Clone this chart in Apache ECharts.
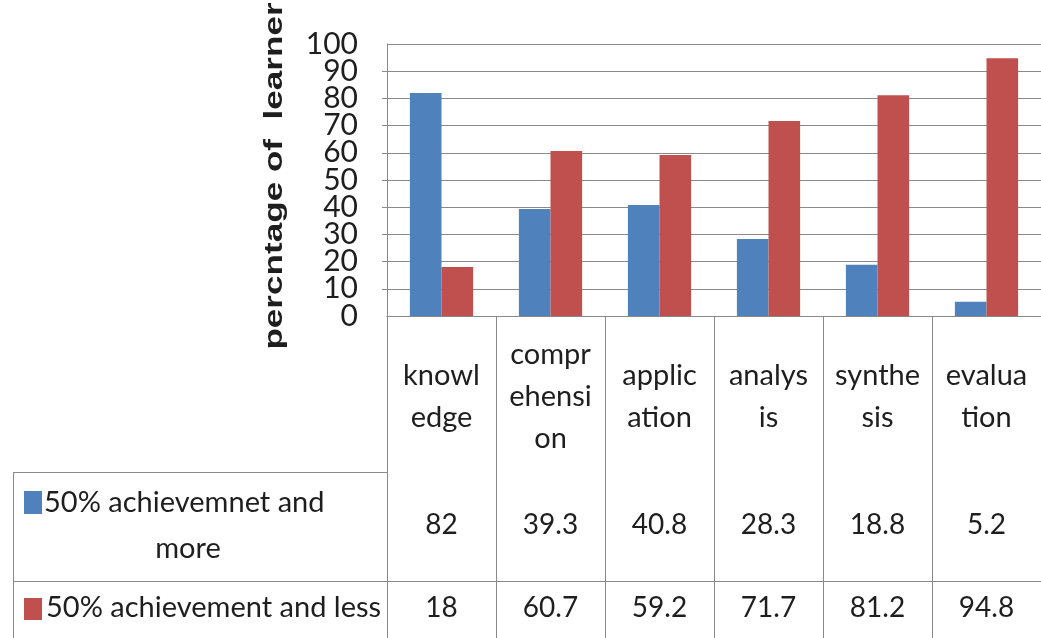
<!DOCTYPE html>
<html>
<head>
<meta charset="utf-8">
<script src="https://cdn.jsdelivr.net/npm/echarts@6/dist/echarts.min.js"></script>
<style>
  html, body { margin: 0; padding: 0; background: #ffffff; }
  #chart { width: 1041px; height: 638px; }
</style>
</head>
<body>
<div id="chart"></div>
<script>
// Bloom's taxonomy levels and share of learners on each side of 50% achievement
const categories = ['knowledge', 'comprehension', 'application', 'analysis', 'synthesis', 'evaluation'];
// how each level name is split over lines in its table cell
const categoryLabelLines = ['knowl\nedge', 'compr\nehensi\non', 'applic\nation', 'analys\nis', 'synthe\nsis', 'evalua\ntion'];
const seriesNames = ['50% achievemnet and more', '50% achievement and less'];
const achievementAbove = [82, 39.3, 40.8, 28.3, 18.8, 5.2];
const achievementBelow = [18, 60.7, 59.2, 71.7, 81.2, 94.8];
const yTickLabels = [0, 10, 20, 30, 40, 50, 60, 70, 80, 90, 100];
const axisTitle = 'percntage of  learner';

const COLORS = ['#4F81BD', '#C0504D'];
const LINE = '#8a8a8a';
const INK = '#1e1e1e';
const FONT = "Lato, 'Open Sans', sans-serif";

const Y_MIN = yTickLabels[0];
const Y_MAX = yTickLabels[yTickLabels.length - 1];
const Y_STEP = yTickLabels[1] - yTickLabels[0];

const chart = echarts.init(document.getElementById('chart'), null, { renderer: 'canvas' });

const tableRows = [achievementAbove, achievementBelow];

function dataRowAxis(rowIndex, offset, margin) {
  return {
    type: 'category',
    data: categories,
    position: 'bottom',
    offset: offset,
    axisLine: { show: true, lineStyle: { color: LINE, width: 1 } },
    axisTick: { show: false },
    splitLine: { show: false },
    axisLabel: {
      interval: 0,
      margin: margin,
      verticalAlign: 'middle',
      fontFamily: FONT,
      fontSize: 28,
      color: INK,
      formatter: function (value, index) { return String(tableRows[rowIndex][index]); }
    }
  };
}

// The tick labels sit closer than their own height, so the end labels (0, 100)
// live on a twin axis to keep every one of them visible.
function valueAxis(isEnds) {
  return {
    type: 'value',
    position: 'left',
    min: Y_MIN,
    max: Y_MAX,
    interval: Y_STEP,
    axisLine: { show: !isEnds, lineStyle: { color: LINE, width: 1 } },
    axisTick: { show: !isEnds, length: 5, lineStyle: { color: LINE } },
    splitLine: { show: !isEnds, lineStyle: { color: LINE, width: 1 } },
    axisLabel: {
      margin: 29,
      showMinLabel: isEnds,
      showMaxLabel: isEnds,
      hideOverlap: false,
      fontFamily: FONT,
      fontSize: 30,
      color: INK,
      formatter: function (value) {
        const isEnd = value === Y_MIN || value === Y_MAX;
        if (yTickLabels.indexOf(value) < 0) return '';
        return isEnd === isEnds ? String(value) : '';
      }
    }
  };
}

const option = {
  backgroundColor: '#ffffff',
  animation: false,
  grid: { left: 387, top: 44, width: 665, height: 272, containLabel: false },
  xAxis: [
    {
      type: 'category',
      data: categories,
      position: 'bottom',
      axisLine: { show: true, lineStyle: { color: LINE, width: 1 } },
      axisTick: { show: true, alignWithLabel: false, interval: 0, length: 322, lineStyle: { color: LINE, width: 1 } },
      splitLine: { show: false },
      axisLabel: {
        interval: 0,
        margin: 81,
        verticalAlign: 'middle',
        fontFamily: FONT,
        fontSize: 29,
        lineHeight: 42,
        color: INK,
        formatter: function (value, index) { return categoryLabelLines[index]; }
      }
    },
    dataRowAxis(0, 156, 53),
    dataRowAxis(1, 265, 27)
  ],
  yAxis: [valueAxis(false), valueAxis(true)],
  series: [
    {
      name: seriesNames[0],
      type: 'bar',
      yAxisIndex: 0,
      data: achievementAbove,
      itemStyle: { color: COLORS[0] },
      barGap: '0%',
      barCategoryGap: '42%'
    },
    {
      name: seriesNames[1],
      type: 'bar',
      yAxisIndex: 0,
      data: achievementBelow,
      itemStyle: { color: COLORS[1] },
      barGap: '0%',
      barCategoryGap: '42%'
    }
  ],
  graphic: [
    // vertical axis title, stretched along its reading direction
    {
      type: 'text',
      x: 275, y: 176,
      rotation: Math.PI / 2,
      scaleX: 1.35,
      style: {
        text: axisTitle,
        fontFamily: "'Liberation Sans', Arial, sans-serif",
        fontWeight: 'bold',
        fontSize: 26,
        fill: INK,
        align: 'center',
        verticalAlign: 'middle'
      }
    },
    // legend column of the data table
    { type: 'line', shape: { x1: 13, y1: 472.5, x2: 387, y2: 472.5 }, style: { stroke: LINE, lineWidth: 1 } },
    { type: 'line', shape: { x1: 13, y1: 581.5, x2: 387, y2: 581.5 }, style: { stroke: LINE, lineWidth: 1 } },
    { type: 'line', shape: { x1: 13.5, y1: 472, x2: 13.5, y2: 638 }, style: { stroke: LINE, lineWidth: 1 } },
    { type: 'rect', shape: { x: 24, y: 491, width: 18, height: 23 }, style: { fill: COLORS[0] } },
    {
      type: 'text', x: 188, y: 526,
      style: {
        text: seriesNames[0], width: 300, overflow: 'break',
        fontFamily: FONT, fontSize: 29, lineHeight: 46, fill: INK,
        align: 'center', verticalAlign: 'middle'
      }
    },
    { type: 'rect', shape: { x: 24, y: 598, width: 18, height: 22 }, style: { fill: COLORS[1] } },
    {
      type: 'text', x: 46, y: 608,
      style: {
        text: seriesNames[1],
        fontFamily: FONT, fontSize: 29, fill: INK,
        align: 'left', verticalAlign: 'middle'
      }
    }
  ]
};

chart.setOption(option);
</script>
</body>
</html>
